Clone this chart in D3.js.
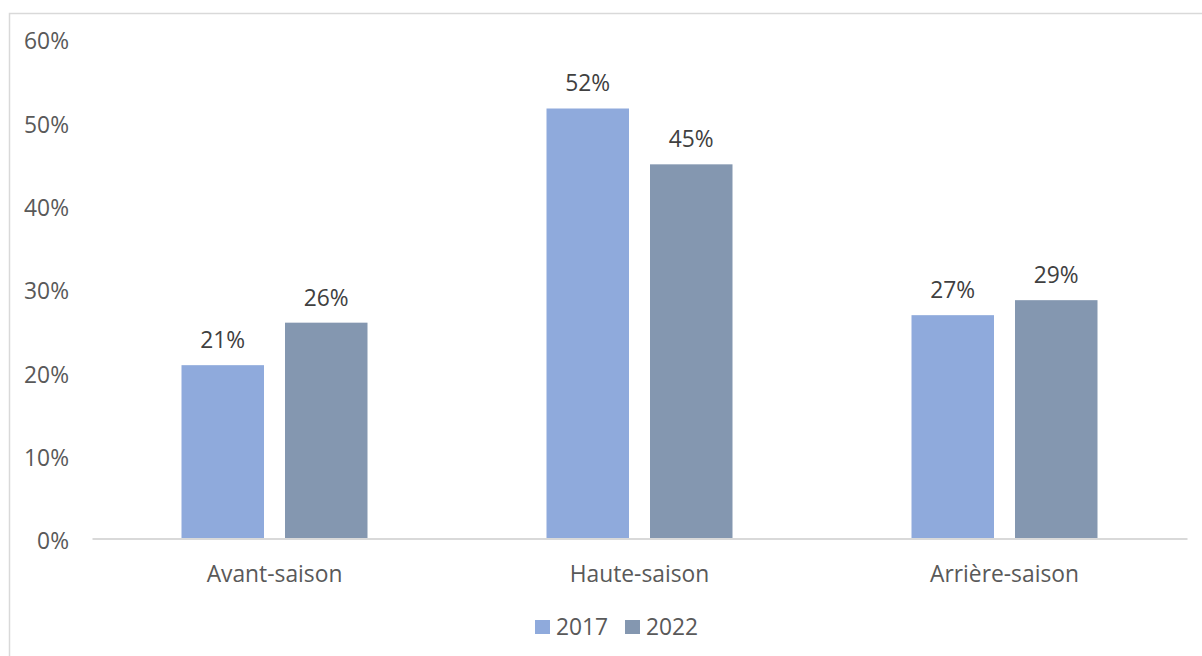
<!DOCTYPE html>
<html>
<head>
<meta charset="utf-8">
<script src="https://cdn.jsdelivr.net/npm/d3@7"></script>
<style>
  html, body { margin: 0; padding: 0; background: #fff; }
  svg { display: block; font-family: "Open Sans", sans-serif; }
</style>
</head>
<body>
<svg id="chart" width="1202" height="656"></svg>
<script>
// Seasonal share of stays, 2017 vs 2022
const categories = ["Avant-saison", "Haute-saison", "Arrière-saison"];
const seriesNames = ["2017", "2022"];
const values2017 = [0.208, 0.516, 0.268];
const values2022 = [0.259, 0.449, 0.286];
const yTicks = [0, 0.1, 0.2, 0.3, 0.4, 0.5, 0.6];
const colors = ["#8FAADC", "#8497B0"];

const seriesValues = [values2017, values2022];
const svg = d3.select("#chart");
const W = 1202, H = 656;
const FS = 22.8;

// chart frame
svg.append("rect")
  .attr("x", 9.5).attr("y", 13.5)
  .attr("width", W + 20).attr("height", H + 20)
  .attr("fill", "none").attr("stroke", "#D9D9D9").attr("stroke-width", 1.5);

const plot = { left: 92, right: 1187, top: 38.5, bottom: 538.5 };

const x = d3.scaleBand().domain(categories).range([plot.left, plot.right]);
const innerPad = 89.5;
const xInner = d3.scaleBand().domain(seriesNames)
  .range([innerPad, x.bandwidth() - innerPad]).paddingInner(0.203);
const y = d3.scaleLinear().domain([0, 0.6]).range([plot.bottom, plot.top]);
const fmt = d3.format(".0%");

// y axis labels (no line, no ticks)
const yAxis = svg.append("g")
  .attr("transform", `translate(${plot.left - 23},0)`)
  .call(d3.axisLeft(y).tickValues(yTicks).tickFormat(fmt).tickSize(0).tickPadding(0));
yAxis.select(".domain").remove();
yAxis.selectAll("text")
  .attr("font-family", "Open Sans").attr("font-size", FS).attr("fill", "#595959")
  .attr("y", 2.5).attr("dy", "0.35em");

// bars
const groups = svg.append("g").selectAll("g")
  .data(categories).join("g")
  .attr("transform", d => `translate(${x(d)},0)`);

seriesNames.forEach((s, si) => {
  groups.append("rect")
    .attr("x", xInner(s))
    .attr("width", xInner.bandwidth())
    .attr("y", (d, i) => y(seriesValues[si][i]))
    .attr("height", (d, i) => y(0) - y(seriesValues[si][i]))
    .attr("fill", colors[si]);

  groups.append("text")
    .attr("x", xInner(s) + xInner.bandwidth() / 2)
    .attr("y", (d, i) => y(seriesValues[si][i]) - 25)
    .attr("dy", "0.35em")
    .attr("text-anchor", "middle")
    .attr("font-size", FS).attr("fill", "#404040")
    .text((d, i) => fmt(seriesValues[si][i]));
});

// x axis
const xAxis = svg.append("g")
  .attr("transform", `translate(0,${plot.bottom})`)
  .call(d3.axisBottom(x).tickSize(0).tickPadding(0));
xAxis.select(".domain").attr("stroke", "#D9D9D9").attr("stroke-width", 2);
xAxis.selectAll("text")
  .attr("font-family", "Open Sans").attr("font-size", FS).attr("fill", "#595959")
  .attr("y", 36).attr("dy", "0.35em");

// legend
const legend = svg.append("g").attr("transform", "translate(535,627)");
const legendX = [0, 90];
seriesNames.forEach((s, i) => {
  legend.append("rect")
    .attr("x", legendX[i]).attr("y", -7)
    .attr("width", 15).attr("height", 14)
    .attr("fill", colors[i]);
  legend.append("text")
    .attr("x", legendX[i] + 21).attr("y", 0).attr("dy", "0.35em")
    .attr("font-size", FS).attr("fill", "#595959")
    .text(s);
});
</script>
</body>
</html>
